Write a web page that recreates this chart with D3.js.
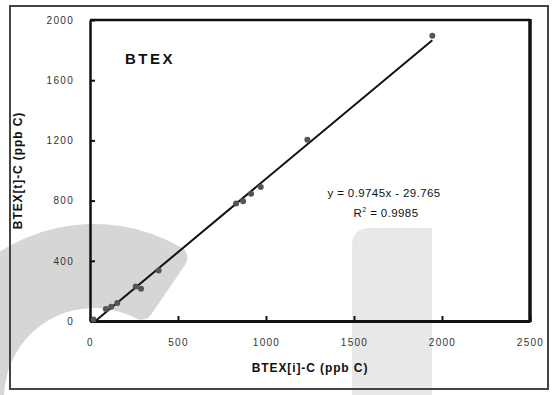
<!DOCTYPE html>
<html>
<head>
<meta charset="utf-8">
<script src="https://cdn.jsdelivr.net/npm/d3@7"></script>
<style>
  body { margin: 0; background: #fff; }
  svg { display: block; font-family: "Liberation Sans", Arial, sans-serif; }
  .tick-label { font-size: 10px; fill: #333; letter-spacing: 1.3px; }
  .axis-label { font-size: 12px; font-weight: bold; fill: #111; letter-spacing: 0.9px; }
</style>
</head>
<body>
<div id="chart"></div>
<script>
(function() {

    // measured values, BTEX[i]-C vs BTEX[t]-C (ppb C)
    var xValues = [20, 90, 120, 155, 260, 290, 390, 830, 870, 915, 970, 1235, 1945];
    var yValues = [10, 80, 95, 120, 230, 215, 335, 780, 795, 845, 890, 1205, 1895];
    var xTicks = [0, 500, 1000, 1500, 2000, 2500];
    var yTicks = [0, 400, 800, 1200, 1600, 2000];
    var fit = { slope: 0.9745, intercept: -29.765, r2: 0.9985 };

    var outerWidth = 554, outerHeight = 395;
    var margins = { top: 20, right: 24, bottom: 74, left: 90 };
    var width = outerWidth - margins.left - margins.right,
        height = outerHeight - margins.top - margins.bottom;

    var root = d3.select("#chart")
        .append("svg")
        .attr("width", outerWidth)
        .attr("height", outerHeight);

    // grey watermark behind the chart
    var wm = root.append("g").attr("class", "watermark");
    wm.append("path")
        .attr("transform", "translate(94,398)")
        .attr("fill", "#d6d6d6")
        .attr("d", d3.arc()
            .innerRadius(90)
            .outerRadius(174)
            .startAngle(-Math.PI * 0.8)
            .endAngle(0.6)
            .cornerRadius(12)());
    wm.append("path")
        .attr("fill", "#e8e8e8")
        .attr("d", "M352,395 L352,246 Q352,228 370,228 L432,228 L432,395 Z");

    // outer frame
    root.append("rect")
        .attr("x", 10).attr("y", 6)
        .attr("width", 538).attr("height", 383)
        .attr("fill", "none")
        .attr("stroke", "#444")
        .attr("stroke-width", 2);

    var svg = root.append("g")
        .attr("transform", "translate(" + margins.left + "," + margins.top + ")");

    var x = d3.scaleLinear().domain([0, 2500]).range([0, width]);
    var y = d3.scaleLinear().domain([0, 2000]).range([height, 0]);

    // plot area border (top and right)
    svg.append("path")
        .attr("d", "M0,0 H" + width)
        .attr("stroke", "#111").attr("stroke-width", 2.5);
    svg.append("path")
        .attr("d", "M" + width + ",-1 V" + (height + 1))
        .attr("stroke", "#111").attr("stroke-width", 3.5);

    var fmt = d3.format("d");
    var xAxis = svg.append("g")
        .attr("transform", "translate(0," + height + ")")
        .call(d3.axisBottom(x).tickValues(xTicks).tickFormat(fmt)
            .tickSizeInner(-5).tickSizeOuter(0).tickPadding(16));
    var yAxis = svg.append("g")
        .call(d3.axisLeft(y).tickValues(yTicks).tickFormat(fmt)
            .tickSizeInner(-5).tickSizeOuter(0).tickPadding(16));

    xAxis.select(".domain").attr("stroke", "#111").attr("stroke-width", 3);
    yAxis.select(".domain").attr("stroke", "#111").attr("stroke-width", 2.5);
    svg.selectAll(".tick line").attr("stroke", "#111").attr("stroke-width", 2);
    svg.selectAll(".tick text")
        .attr("class", "tick-label")
        .attr("font-family", null)
        .attr("font-size", null)
        .attr("fill", null);
    xAxis.selectAll(".tick text").attr("dy", "0.9em");

    // fitted line
    var lineStart = -fit.intercept / fit.slope,
        lineEnd = d3.max(xValues);
    svg.append("line")
        .attr("x1", x(lineStart)).attr("y1", y(fit.slope * lineStart + fit.intercept))
        .attr("x2", x(lineEnd)).attr("y2", y(fit.slope * lineEnd + fit.intercept))
        .attr("stroke", "#111")
        .attr("stroke-width", 2);

    // points
    svg.selectAll("circle.pt")
        .data(d3.zip(xValues, yValues))
        .enter().append("circle")
        .attr("class", "pt")
        .attr("cx", function(d) { return x(d[0]); })
        .attr("cy", function(d) { return y(d[1]); })
        .attr("r", 3)
        .attr("fill", "#555");

    // title and equation
    svg.append("text")
        .attr("x", 35).attr("y", 44)
        .attr("font-size", 15).attr("font-weight", "bold")
        .attr("letter-spacing", 2.5).attr("fill", "#111")
        .text("BTEX");

    var eq = svg.append("g").attr("font-size", 11.5).attr("letter-spacing", 0.4)
        .attr("fill", "#111").attr("text-anchor", "middle");
    eq.append("text")
        .attr("x", 294).attr("y", 177)
        .text("y = " + fit.slope + "x - " + Math.abs(fit.intercept));
    var r2 = eq.append("text").attr("x", 296).attr("y", 197);
    r2.append("tspan").text("R");
    r2.append("tspan").attr("font-size", 7).attr("dy", -5).text("2");
    r2.append("tspan").attr("dy", 5).text(" = " + fit.r2);

    // axis labels
    svg.append("text")
        .attr("class", "axis-label")
        .attr("text-anchor", "middle")
        .attr("x", width / 2)
        .attr("y", height + 51)
        .text("BTEX[i]-C (ppb C)");

    svg.append("text")
        .attr("class", "axis-label")
        .attr("text-anchor", "middle")
        .attr("x", -height / 2)
        .attr("y", -68)
        .attr("transform", "rotate(-90)")
        .text("BTEX[t]-C (ppb C)");

})();
</script>
</body>
</html>
